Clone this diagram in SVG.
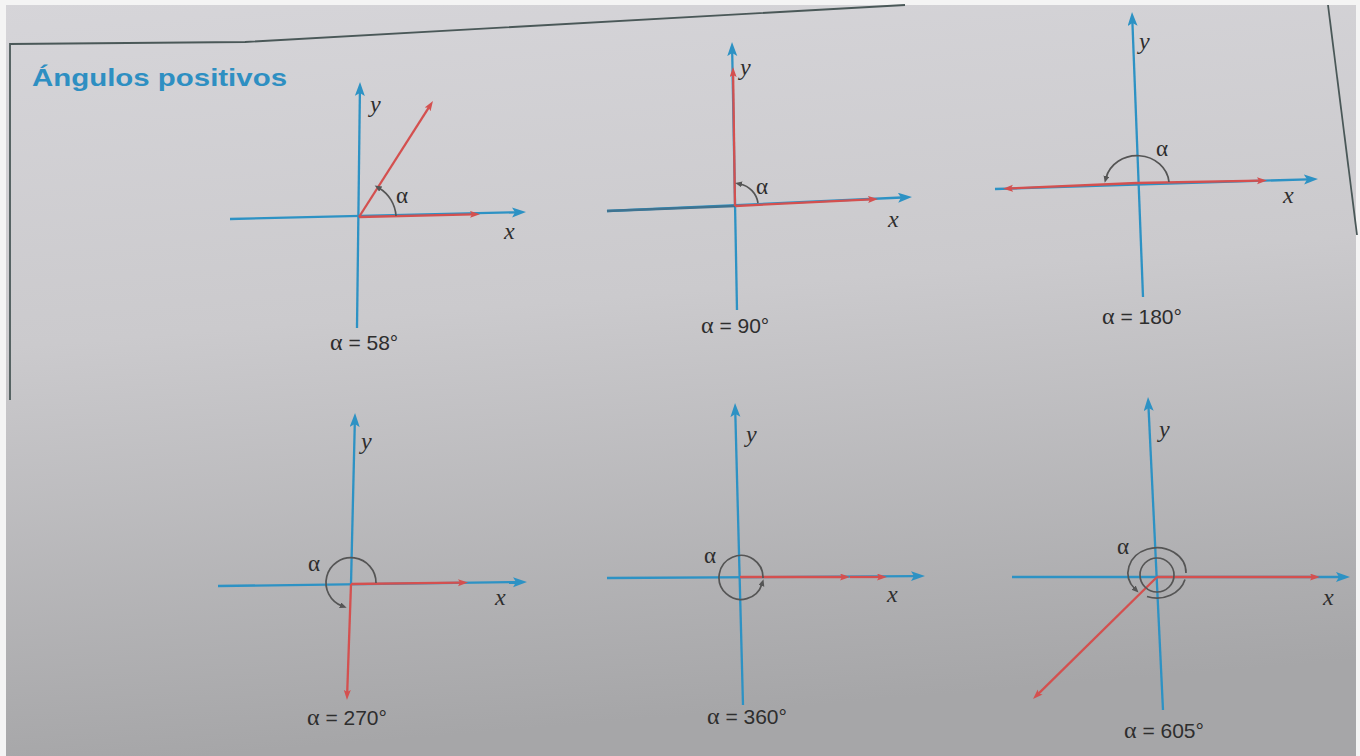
<svg xmlns="http://www.w3.org/2000/svg" width="1360" height="756" viewBox="0 0 1360 756">
<defs>
<linearGradient id="paper" x1="0" y1="0" x2="0.15" y2="1">
<stop offset="0" stop-color="#d6d5d9"/>
<stop offset="0.45" stop-color="#cbcacd"/>
<stop offset="1" stop-color="#a6a6a8"/>
</linearGradient>
<marker id="ab" markerUnits="userSpaceOnUse" markerWidth="16" markerHeight="12" refX="4" refY="5" orient="auto">
<path d="M0,0 L14,5 L0,10 L3,5 z" fill="#2d92c4"/>
</marker>
<marker id="ar" markerUnits="userSpaceOnUse" markerWidth="12" markerHeight="9" refX="3" refY="3.5" orient="auto">
<path d="M0,0 L10,3.5 L0,7 L2,3.5 z" fill="#d4504f"/>
</marker>
<marker id="ag" markerUnits="userSpaceOnUse" markerWidth="9" markerHeight="7" refX="2" refY="3" orient="auto">
<path d="M0,0 L7,3 L0,6 z" fill="#555"/>
</marker>
</defs>
<style>
.ax{stroke:#2d92c4;stroke-width:2.3;fill:none;marker-end:url(#ab)}
.ray{stroke:#d4504f;stroke-width:2.3;fill:none;marker-end:url(#ar)}
.arc{stroke:#555;stroke-width:1.7;fill:none}
.arca{stroke:#555;stroke-width:1.7;fill:none;marker-end:url(#ag)}
.lbl{font-family:"Liberation Serif",serif;font-style:italic;font-size:24px;fill:#2e2e2e}
.al{font-family:"Liberation Serif",serif;font-size:23px;fill:#2e2e2e}
.cap{font-family:"Liberation Sans",Arial,sans-serif;font-size:21px;fill:#2e2e2e}
.cap .g{font-family:"Liberation Serif",serif;font-size:24px}
.title{font-family:"Liberation Sans",Arial,sans-serif;font-weight:bold;font-size:24px;fill:#2e8fc2}
.frame{stroke:#4a5858;stroke-width:1.8;fill:none}
</style>
<rect x="0" y="0" width="1360" height="756" fill="url(#paper)"/>
<rect x="0" y="0" width="1360" height="5" fill="#f4f4f4"/>
<rect x="0" y="0" width="6" height="756" fill="#f4f4f4"/>
<rect x="1356" y="0" width="4" height="756" fill="#f4f4f4"/>
<g id="frame">
<polyline class="frame" points="10,400 10,44 245,42 905,5"/>
<line class="frame" x1="1328" y1="5" x2="1357" y2="235"/>
</g>
<text class="title" x="32" y="86" textLength="255" lengthAdjust="spacingAndGlyphs">Ángulos positivos</text>

<g id="angle58">
<line class="ax" x1="357" y1="328" x2="359.9" y2="92"/>
<line class="ax" x1="230" y1="219" x2="516" y2="212.3"/>
<line class="ray" x1="359" y1="217" x2="473" y2="214.3"/>
<line class="ray" x1="359" y1="217" x2="429.2" y2="106.9"/>
<path class="arca" d="M396,216 A35,35 0 0 0 379,188"/>
<text class="al" x="396" y="203">α</text>
<text class="lbl" x="370" y="112">y</text>
<text class="lbl" x="504" y="239">x</text>
<text class="cap" x="330" y="350"><tspan class="g">α</tspan> = 58°</text>
</g>

<g id="angle90">
<line class="ax" x1="737" y1="310" x2="732.2" y2="52"/>
<line class="ax" x1="607" y1="211" x2="902" y2="197.5"/>
<line x1="607" y1="211" x2="735" y2="206" stroke="#3f7390" stroke-width="2.3"/>
<line class="ray" x1="735" y1="206" x2="733.1" y2="74"/>
<line class="ray" x1="735" y1="206" x2="871" y2="199.3"/>
<path class="arca" d="M758,203 A23,23 0 0 0 740,184"/>
<text class="al" x="756" y="194">α</text>
<text class="lbl" x="740" y="75">y</text>
<text class="lbl" x="888" y="227">x</text>
<text class="cap" x="701" y="333"><tspan class="g">α</tspan> = 90°</text>
</g>

<g id="angle180">
<line class="ax" x1="1143" y1="297" x2="1132.4" y2="22"/>
<line class="ax" x1="995" y1="189" x2="1308" y2="179.3"/>
<line class="ray" x1="1137" y1="183" x2="1260" y2="180.7"/>
<line class="ray" x1="1137" y1="183" x2="1010" y2="188.4"/>
<path class="arca" d="M1169,182 A32,29 0 0 0 1106,178"/>
<text class="al" x="1156" y="156">α</text>
<text class="lbl" x="1139" y="49">y</text>
<text class="lbl" x="1283" y="203">x</text>
<text class="cap" x="1102" y="324"><tspan class="g">α</tspan> = 180°</text>
</g>

<g id="angle270">
<line class="ax" x1="351" y1="584" x2="354.8" y2="423"/>
<line class="ax" x1="218" y1="586" x2="517" y2="582.1"/>
<line class="ray" x1="351" y1="584" x2="461" y2="582.6"/>
<line class="ray" x1="351" y1="584" x2="347.2" y2="693"/>
<path class="arca" d="M376,583 A25,25 0 1 0 342,606"/>
<text class="al" x="308" y="571">α</text>
<text class="lbl" x="361" y="449">y</text>
<text class="lbl" x="495" y="605">x</text>
<text class="cap" x="307" y="725"><tspan class="g">α</tspan> = 270°</text>
</g>

<g id="angle360">
<line class="ax" x1="743" y1="705" x2="735.3" y2="413"/>
<line class="ax" x1="607" y1="578" x2="915" y2="576.1"/>
<line class="ray" x1="740" y1="577" x2="843" y2="577"/>
<line class="ray" x1="850" y1="577" x2="880" y2="577"/>
<path class="arca" d="M763,578 A22,22 0 1 0 762,584"/>
<text class="al" x="704" y="563">α</text>
<text class="lbl" x="746" y="442">y</text>
<text class="lbl" x="887" y="602">x</text>
<text class="cap" x="707" y="724"><tspan class="g">α</tspan> = 360°</text>
</g>

<g id="angle605">
<line class="ax" x1="1163" y1="710" x2="1148.5" y2="407"/>
<line class="ax" x1="1012" y1="577" x2="1340" y2="577"/>
<line class="ray" x1="1157" y1="577" x2="1313" y2="577"/>
<line class="ray" x1="1157" y1="577" x2="1038" y2="694.1"/>
<circle class="arc" cx="1157" cy="575" r="17"/>
<path class="arca" d="M1186,573 A29,25 0 1 0 1135,589"/>
<path class="arc" d="M1147,596.5 A29,25 0 0 0 1185,579.5"/>
<text class="al" x="1117" y="554">α</text>
<text class="lbl" x="1159" y="437">y</text>
<text class="lbl" x="1323" y="605">x</text>
<text class="cap" x="1124" y="738"><tspan class="g">α</tspan> = 605°</text>
</g>
</svg>
